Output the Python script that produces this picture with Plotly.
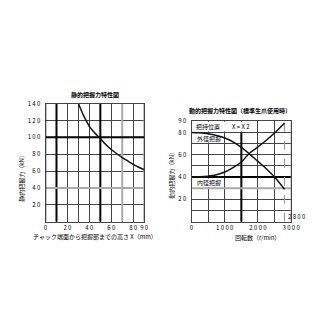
import plotly.graph_objects as go

W = H = 334
FONT = "Noto Sans CJK JP"

# Left chart: static gripping force vs height X
static_x = [30, 35, 40, 45, 50, 55, 60, 65, 70, 75, 80, 85, 90]
static_force = [140, 125, 113, 105, 98.5, 91.5, 85.5, 80.5, 76, 72, 68, 64.5, 61.5]
left_xticks = [0, 10, 20, 30, 40, 50, 60, 70, 80, 90]
left_xtext = ["0", "", "2 0", "", "4 0", "", "6 0", "", "8 0", "9 0"]
left_yticks = [0, 20, 40, 60, 80, 100, 120, 140]
left_ytext = ["", "2 0", "4 0", "6 0", "8 0", "1 0 0", "1 2 0", "1 4 0"]

# Right chart: dynamic gripping force vs rotation speed
rpm = [0, 250, 500, 750, 1000, 1250, 1500, 1750, 2000, 2250, 2500, 2800]
outer_force = [80, 79.6, 78.7, 77.2, 75, 71.5, 66.5, 60.5, 54, 47.5, 40, 29]
inner_force = [40, 40.2, 40.8, 42, 44.5, 48.5, 53.5, 61.5, 67, 73, 79.5, 88.5]
right_xticks = [0, 500, 1000, 1500, 2000, 2500, 3000]
right_xtext = ["0", "", "1 0 0 0", "", "2 0 0 0", "", "3 0 0 0"]
right_yticks = [0, 10, 20, 30, 40, 50, 60, 70, 80, 90]
right_ytext = ["", "", "2 0", "", "4 0", "", "6 0", "", "8 0", "9 0"]

def px(x):
    return x / W

def py(y):
    return 1 - y / H

fig = go.Figure()
fig.add_trace(go.Scatter(x=static_x, y=static_force, mode="lines", line=dict(color="#111", width=1.5, shape="spline"),
                         xaxis="x", yaxis="y", showlegend=False))
fig.add_trace(go.Scatter(x=rpm, y=outer_force, mode="lines", line=dict(color="#111", width=1.5, shape="spline"),
                         xaxis="x2", yaxis="y2", showlegend=False))
fig.add_trace(go.Scatter(x=rpm, y=inner_force, mode="lines", line=dict(color="#111", width=1.5, shape="spline"),
                         xaxis="x2", yaxis="y2", showlegend=False))

tickfont = dict(family=FONT, size=6, color="#000")
grid = dict(showgrid=True, gridcolor="#444", gridwidth=1, zeroline=False, showline=True, linecolor="#444",
            linewidth=1, mirror=True, ticks="", tickfont=tickfont, fixedrange=True)

fig.update_layout(
    width=W, height=H, margin=dict(l=0, r=0, t=0, b=0),
    paper_bgcolor="white", plot_bgcolor="white",
    xaxis=dict(domain=[px(45), px(147)], range=[0, 90], tickmode="array", tickvals=left_xticks,
               ticktext=left_xtext, anchor="y", ticklabelstandoff=0, **grid),
    yaxis=dict(domain=[py(220), py(100)], range=[0, 140], tickmode="array", tickvals=left_yticks,
               ticktext=left_ytext, anchor="x", ticklabelstandoff=3, **grid),
    xaxis2=dict(domain=[px(196), px(299)], range=[0, 3000], tickmode="array", tickvals=right_xticks,
                ticktext=right_xtext, anchor="y2", ticklabelstandoff=0, **grid),
    yaxis2=dict(domain=[py(220), py(118)], range=[0, 90], tickmode="array", tickvals=right_yticks,
                ticktext=right_ytext, anchor="x2", ticklabelstandoff=3, **grid),
)

shapes = []
def vline(xref, yref, x, y0, y1, color, width, dash="solid"):
    shapes.append(dict(type="line", xref=xref, yref=yref, x0=x, x1=x, y0=y0, y1=y1,
                       line=dict(color=color, width=width, dash=dash), layer="between"))
def hline(xref, yref, y, x0, x1, color, width):
    shapes.append(dict(type="line", xref=xref, yref=yref, x0=x0, x1=x1, y0=y, y1=y,
                       line=dict(color=color, width=width), layer="between"))

# left chart emphasised grid lines
vline("x", "y", 10, 0, 140, "#000", 2)
vline("x", "y", 50, 0, 140, "#000", 2)
vline("x", "y", 70, 0, 140, "#aaa", 2)
vline("x", "y", 90, 0, 140, "#999", 1.5)
hline("x", "y", 100, 0, 90, "#000", 2)
hline("x", "y", 40, 0, 90, "#aaa", 2)
vline("x", "y", 0, 0, 140, "#222", 1.5)

# right chart
shapes.append(dict(type="rect", xref="x2", yref="y2", x0=5, x1=1650, y0=80.7, y1=89.5,
                   fillcolor="white", line=dict(width=0), layer="between"))
vline("x2", "y2", 1500, 0, 80, "#000", 2)
hline("x2", "y2", 40, 0, 3000, "#000", 2)
hline("x2", "y2", 30, 0, 3000, "#aaa", 2)
vline("x2", "y2", 2800, 0, 90, "#999", 1.2, "dash")
vline("x2", "y2", 3000, 0, 90, "#999", 1)
shapes.append(dict(type="rect", xref="x2", yref="y2", x0=60, x1=790, y0=71, y1=77.8,
                   fillcolor="white", line=dict(width=0), layer="between"))
shapes.append(dict(type="rect", xref="x2", yref="y2", x0=60, x1=790, y0=31, y1=38.6,
                   fillcolor="white", line=dict(width=0), layer="between"))
fig.update_layout(shapes=shapes)

ann = []
def note(text, x, y, xref="paper", yref="paper", angle=0, xanchor="center", size=6):
    ann.append(dict(text=text, x=x, y=y, xref=xref, yref=yref, showarrow=False, textangle=angle,
                    xanchor=xanchor, yanchor="middle", font=dict(family=FONT, size=size, color="#000")))

note("<b>静的把握力特性図</b>", px(96), py(91))
note("静的把握力（kN）", px(20), py(174), angle=-90)
note("チャック端面から把握部までの高さ X（mm）", px(96), py(235))

note("<b>動的把握力特性図（標準生爪使用時）</b>", px(246), py(107))
note("動的把握力（kN）", px(175), py(171), angle=-90)
note("回転数（r/min）", px(264), py(236))
note("把持位置　　X = X 2", 80, 85.3, xref="x2", yref="y2", xanchor="left")
note("外径把握", 90, 74.5, xref="x2", yref="y2", xanchor="left")
note("内径把握", 90, 34.8, xref="x2", yref="y2", xanchor="left")
note("2 8 0 0", 2830, 4.5, xref="x2", yref="y2", xanchor="left")
fig.update_layout(annotations=ann)

fig.write_html("out.html")
